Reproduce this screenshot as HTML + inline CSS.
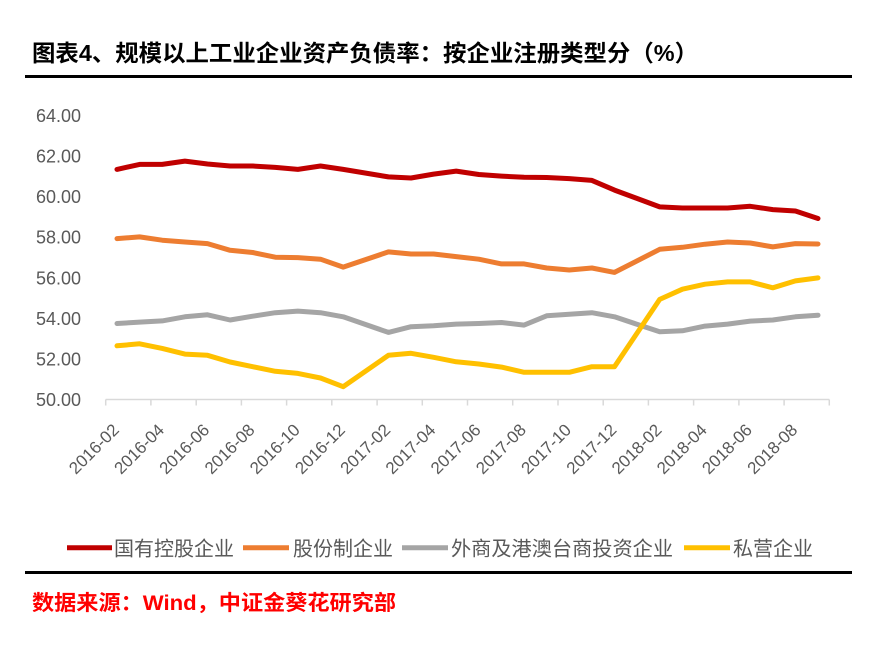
<!DOCTYPE html>
<html>
<head>
<meta charset="utf-8">
<style>
  html, body { margin: 0; padding: 0; background: #ffffff; }
  body { width: 870px; height: 647px; overflow: hidden; }
  svg { display: block; }
  .cjk { font-family: "Liberation Sans", "Noto Sans CJK SC", "WenQuanYi Zen Hei", sans-serif; }
  .num { font-family: "Liberation Sans", sans-serif; fill: #595959; }
</style>
</head>
<body>
<svg width="870" height="647" viewBox="0 0 870 647" xmlns="http://www.w3.org/2000/svg">
  <rect x="0" y="0" width="870" height="647" fill="#ffffff"/>

  <!-- Title -->
  <text class="cjk" x="32" y="61.2" font-size="23" font-weight="bold" fill="#000000" textLength="666" lengthAdjust="spacingAndGlyphs">图表4、规模以上工业企业资产负债率：按企业注册类型分（%）</text>
  <rect x="25" y="75" width="827" height="3" fill="#000000"/>

  <!-- Y axis labels -->
  <g class="num" font-size="18" text-anchor="end">
    <text x="81" y="122.1">64.00</text>
    <text x="81" y="162.6">62.00</text>
    <text x="81" y="203.2">60.00</text>
    <text x="81" y="243.7">58.00</text>
    <text x="81" y="284.3">56.00</text>
    <text x="81" y="324.8">54.00</text>
    <text x="81" y="365.4">52.00</text>
    <text x="81" y="405.9">50.00</text>
  </g>

  <!-- X axis -->
  <g stroke="#d9d9d9" stroke-width="1.5" fill="none">
    <line x1="105.7" y1="399.5" x2="829.3" y2="399.5"/>
    <line x1="105.7" y1="399.5" x2="105.7" y2="405.5"/>
    <line x1="150.9" y1="399.5" x2="150.9" y2="405.5"/>
    <line x1="196.2" y1="399.5" x2="196.2" y2="405.5"/>
    <line x1="241.4" y1="399.5" x2="241.4" y2="405.5"/>
    <line x1="286.6" y1="399.5" x2="286.6" y2="405.5"/>
    <line x1="331.8" y1="399.5" x2="331.8" y2="405.5"/>
    <line x1="377.1" y1="399.5" x2="377.1" y2="405.5"/>
    <line x1="422.3" y1="399.5" x2="422.3" y2="405.5"/>
    <line x1="467.5" y1="399.5" x2="467.5" y2="405.5"/>
    <line x1="512.7" y1="399.5" x2="512.7" y2="405.5"/>
    <line x1="558.0" y1="399.5" x2="558.0" y2="405.5"/>
    <line x1="603.2" y1="399.5" x2="603.2" y2="405.5"/>
    <line x1="648.4" y1="399.5" x2="648.4" y2="405.5"/>
    <line x1="693.6" y1="399.5" x2="693.6" y2="405.5"/>
    <line x1="738.9" y1="399.5" x2="738.9" y2="405.5"/>
    <line x1="784.1" y1="399.5" x2="784.1" y2="405.5"/>
    <line x1="829.3" y1="399.5" x2="829.3" y2="405.5"/>
  </g>

  <!-- X axis labels -->
  <g class="num" font-size="17" text-anchor="end">
    <text x="120.0" y="431" transform="rotate(-45 120.0 431)">2016-02</text>
    <text x="165.2" y="431" transform="rotate(-45 165.2 431)">2016-04</text>
    <text x="210.4" y="431" transform="rotate(-45 210.4 431)">2016-06</text>
    <text x="255.7" y="431" transform="rotate(-45 255.7 431)">2016-08</text>
    <text x="300.9" y="431" transform="rotate(-45 300.9 431)">2016-10</text>
    <text x="346.1" y="431" transform="rotate(-45 346.1 431)">2016-12</text>
    <text x="391.4" y="431" transform="rotate(-45 391.4 431)">2017-02</text>
    <text x="436.6" y="431" transform="rotate(-45 436.6 431)">2017-04</text>
    <text x="481.8" y="431" transform="rotate(-45 481.8 431)">2017-06</text>
    <text x="527.0" y="431" transform="rotate(-45 527.0 431)">2017-08</text>
    <text x="572.2" y="431" transform="rotate(-45 572.2 431)">2017-10</text>
    <text x="617.5" y="431" transform="rotate(-45 617.5 431)">2017-12</text>
    <text x="662.7" y="431" transform="rotate(-45 662.7 431)">2018-02</text>
    <text x="707.9" y="431" transform="rotate(-45 707.9 431)">2018-04</text>
    <text x="753.1" y="431" transform="rotate(-45 753.1 431)">2018-06</text>
    <text x="798.4" y="431" transform="rotate(-45 798.4 431)">2018-08</text>
  </g>

  <!-- Series -->
  <g fill="none" stroke-width="5" stroke-linejoin="round" stroke-linecap="round">
    <!-- 国有控股企业 -->
    <polyline stroke="#C00000" points="117.0,169.4 139.6,164.4 162.2,164.4 184.9,161.1 207.5,164.0 230.1,166.0 252.7,166.0 275.3,167.4 297.9,169.4 320.5,166.0 343.2,169.4 388.4,176.9 411.0,178.0 433.6,174.1 456.2,171.1 478.8,174.5 501.5,176.1 524.1,177.3 546.7,177.5 569.3,178.6 591.9,180.4 614.5,190.1 659.7,206.9 682.4,208.0 705.0,208.0 727.6,208.0 750.2,206.3 772.8,209.6 795.4,211.0 818.0,218.5"/>
    <!-- 股份制企业 -->
    <polyline stroke="#ED7D31" points="117.0,238.6 139.6,236.9 162.2,240.2 184.9,242.0 207.5,243.6 230.1,250.3 252.7,252.5 275.3,257.2 297.9,257.6 320.5,259.2 343.2,267.1 388.4,251.9 411.0,254.0 433.6,254.0 456.2,256.6 478.8,259.2 501.5,263.9 524.1,263.9 546.7,268.0 569.3,270.0 591.9,268.0 614.5,272.4 659.7,249.3 682.4,247.3 705.0,244.2 727.6,242.0 750.2,243.0 772.8,246.9 795.4,243.6 818.0,244.0"/>
    <!-- 外商及港澳台商投资企业 -->
    <polyline stroke="#A5A5A5" points="117.0,323.5 139.6,322.1 162.2,320.9 184.9,316.8 207.5,314.8 230.1,320.0 252.7,316.2 275.3,312.7 297.9,311.1 320.5,312.7 343.2,316.8 388.4,332.4 411.0,326.7 433.6,325.7 456.2,324.1 478.8,323.5 501.5,322.5 524.1,325.1 546.7,315.8 569.3,314.2 591.9,312.7 614.5,316.8 659.7,331.8 682.4,330.8 705.0,326.1 727.6,324.1 750.2,321.1 772.8,320.0 795.4,316.8 818.0,315.2"/>
    <!-- 私营企业 -->
    <polyline stroke="#FFC000" points="117.0,345.8 139.6,343.8 162.2,348.4 184.9,354.1 207.5,355.3 230.1,362.0 252.7,366.7 275.3,371.3 297.9,373.4 320.5,378.0 343.2,386.7 388.4,355.3 411.0,353.3 433.6,357.3 456.2,361.8 478.8,364.0 501.5,367.1 524.1,372.3 546.7,372.3 569.3,372.3 591.9,366.7 614.5,366.7 659.7,299.4 682.4,289.2 705.0,284.2 727.6,281.9 750.2,281.9 772.8,287.8 795.4,280.9 818.0,277.9"/>
  </g>

  <!-- Legend -->
  <g stroke-width="5" stroke-linecap="butt">
    <line x1="67" y1="547.7" x2="112" y2="547.7" stroke="#C00000"/>
    <line x1="243" y1="547.7" x2="289" y2="547.7" stroke="#ED7D31"/>
    <line x1="402" y1="547.7" x2="448" y2="547.7" stroke="#A5A5A5"/>
    <line x1="684" y1="547.7" x2="730" y2="547.7" stroke="#FFC000"/>
  </g>
  <g class="cjk" font-size="20" fill="#595959">
    <text x="114" y="555.3" textLength="120" lengthAdjust="spacingAndGlyphs">国有控股企业</text>
    <text x="293" y="555.3" textLength="100" lengthAdjust="spacingAndGlyphs">股份制企业</text>
    <text x="451" y="555.3" textLength="222" lengthAdjust="spacingAndGlyphs">外商及港澳台商投资企业</text>
    <text x="733" y="555.3" textLength="80" lengthAdjust="spacingAndGlyphs">私营企业</text>
  </g>

  <rect x="25" y="571" width="827" height="3" fill="#000000"/>

  <!-- Source -->
  <text class="cjk" x="32" y="610.2" font-size="21" font-weight="bold" fill="#FF0000" textLength="364" lengthAdjust="spacingAndGlyphs">数据来源：Wind，中证金葵花研究部</text>
</svg>
</body>
</html>
